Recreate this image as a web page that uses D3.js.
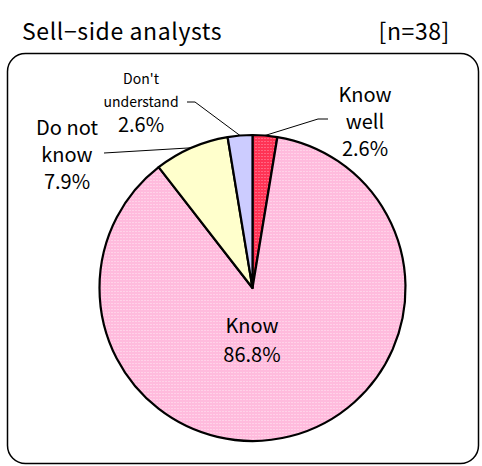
<!DOCTYPE html>
<html>
<head>
<meta charset="utf-8">
<script src="https://cdn.jsdelivr.net/npm/d3@7"></script>
<style>
  body { margin: 0; background: #fff; }
  text { font-family: "Noto Sans CJK JP", "DejaVu Sans", sans-serif; fill: #000; }
</style>
</head>
<body>
<div id="chart"></div>
<script>
// data
var categories = ["Know well", "Know", "Do not know", "Don't understand"]
var values = [2.6, 86.8, 7.9, 2.6]
var labelLines = [["Know", "well"], ["Know"], ["Do not", "know"], ["Don't", "understand"]]
var title = "Sell\u2212side analysts"
var sampleLabel = "[n=38]"

var w = 482, h = 466
var svg = d3.select('#chart').append('svg')
    .attr('width', w)
    .attr('height', h)

// fill patterns
var defs = svg.append('defs')
var pat1 = defs.append('pattern').attr('id', 'pRed')
    .attr('width', 3).attr('height', 3).attr('patternUnits', 'userSpaceOnUse')
pat1.append('rect').attr('width', 3).attr('height', 3).attr('fill', '#ff3355')
pat1.append('rect').attr('width', 1).attr('height', 1).attr('fill', '#ff9aaa')
var pat2 = defs.append('pattern').attr('id', 'pPink')
    .attr('width', 3).attr('height', 3).attr('patternUnits', 'userSpaceOnUse')
pat2.append('rect').attr('width', 3).attr('height', 3).attr('fill', '#ffbbdd')
pat2.append('rect').attr('width', 1).attr('height', 1).attr('fill', '#ffe8f3')

var colors = d3.scaleOrdinal()
    .domain(categories)
    .range(['url(#pRed)', 'url(#pPink)', '#ffffcc', '#ccccff'])

// title
svg.append('text')
    .attr('x', 22).attr('y', 40)
    .style('font-size', '23px')
    .style('letter-spacing', '0.6px')
    .text(title)
svg.append('text')
    .attr('x', 450).attr('y', 40)
    .attr('text-anchor', 'end')
    .style('font-size', '23px')
    .style('letter-spacing', '0.6px')
    .text(sampleLabel)

// frame
svg.append('rect')
    .attr('x', 7.5).attr('y', 53.5)
    .attr('width', 471).attr('height', 410)
    .attr('rx', 18)
    .attr('fill', 'none')
    .attr('stroke', '#000')
    .attr('stroke-width', 1.5)

var cx = 252.5, cy = 288, r = 153
var g = svg.append('g').attr('transform', 'translate(' + cx + ',' + cy + ')')

var pie = d3.pie().sort(null).value(function(d) { return d.value })
var arc = d3.arc().innerRadius(0).outerRadius(r)

var data = categories.map(function(c, i) {
  return {name: c, value: values[i], lines: labelLines[i]}
})
var arcs = pie(data)

g.selectAll('.slice')
  .data(arcs)
  .enter().append('path')
    .attr('class', 'slice')
    .attr('d', arc)
    .attr('fill', function(d) { return colors(d.data.name) })
    .attr('stroke', '#000')
    .attr('stroke-width', 2.2)
    .attr('stroke-linejoin', 'round')

// label layout (absolute page positions) and leader elbows
var labelPos = [
  {x: 365, y: 95, size: 20, step: 27, pctSize: 20, leader: [[328, 119], [318, 119]]},
  {x: 252, y: 326, size: 20, step: 29, pctSize: 20, leader: null},
  {x: 67, y: 128, size: 20, step: 27, pctSize: 20, leader: [[104, 153]]},
  {x: 141, y: 79, size: 14, step: 23, pctSize: 20, leader: [[187, 102], [195, 102]]}
]

function edgePoint(d) {
  var a = (d.startAngle + d.endAngle) / 2
  return [cx + r * Math.sin(a), cy - r * Math.cos(a)]
}

arcs.forEach(function(d, i) {
  var p = labelPos[i]
  if (p.leader) {
    var pts = p.leader.concat([edgePoint(d)])
    svg.append('path')
        .attr('d', d3.line()(pts))
        .attr('fill', 'none')
        .attr('stroke', '#000')
        .attr('stroke-width', 1)
  }
  var t = svg.append('text')
      .attr('text-anchor', 'middle')
  d.data.lines.forEach(function(line, j) {
    t.append('tspan')
        .attr('x', p.x)
        .attr('y', p.y + j * p.step)
        .attr('dy', '0.35em')
        .style('font-size', p.size + 'px')
        .text(line)
  })
  var n = d.data.lines.length
  var pctY = p.y + (n - 1) * p.step + (i == 3 ? 23 : p.step)
  t.append('tspan')
      .attr('x', p.x)
      .attr('y', pctY)
      .attr('dy', '0.35em')
      .style('font-size', p.pctSize + 'px')
      .text(d3.format('.1f')(d.data.value) + '%')
})
</script>
</body>
</html>
